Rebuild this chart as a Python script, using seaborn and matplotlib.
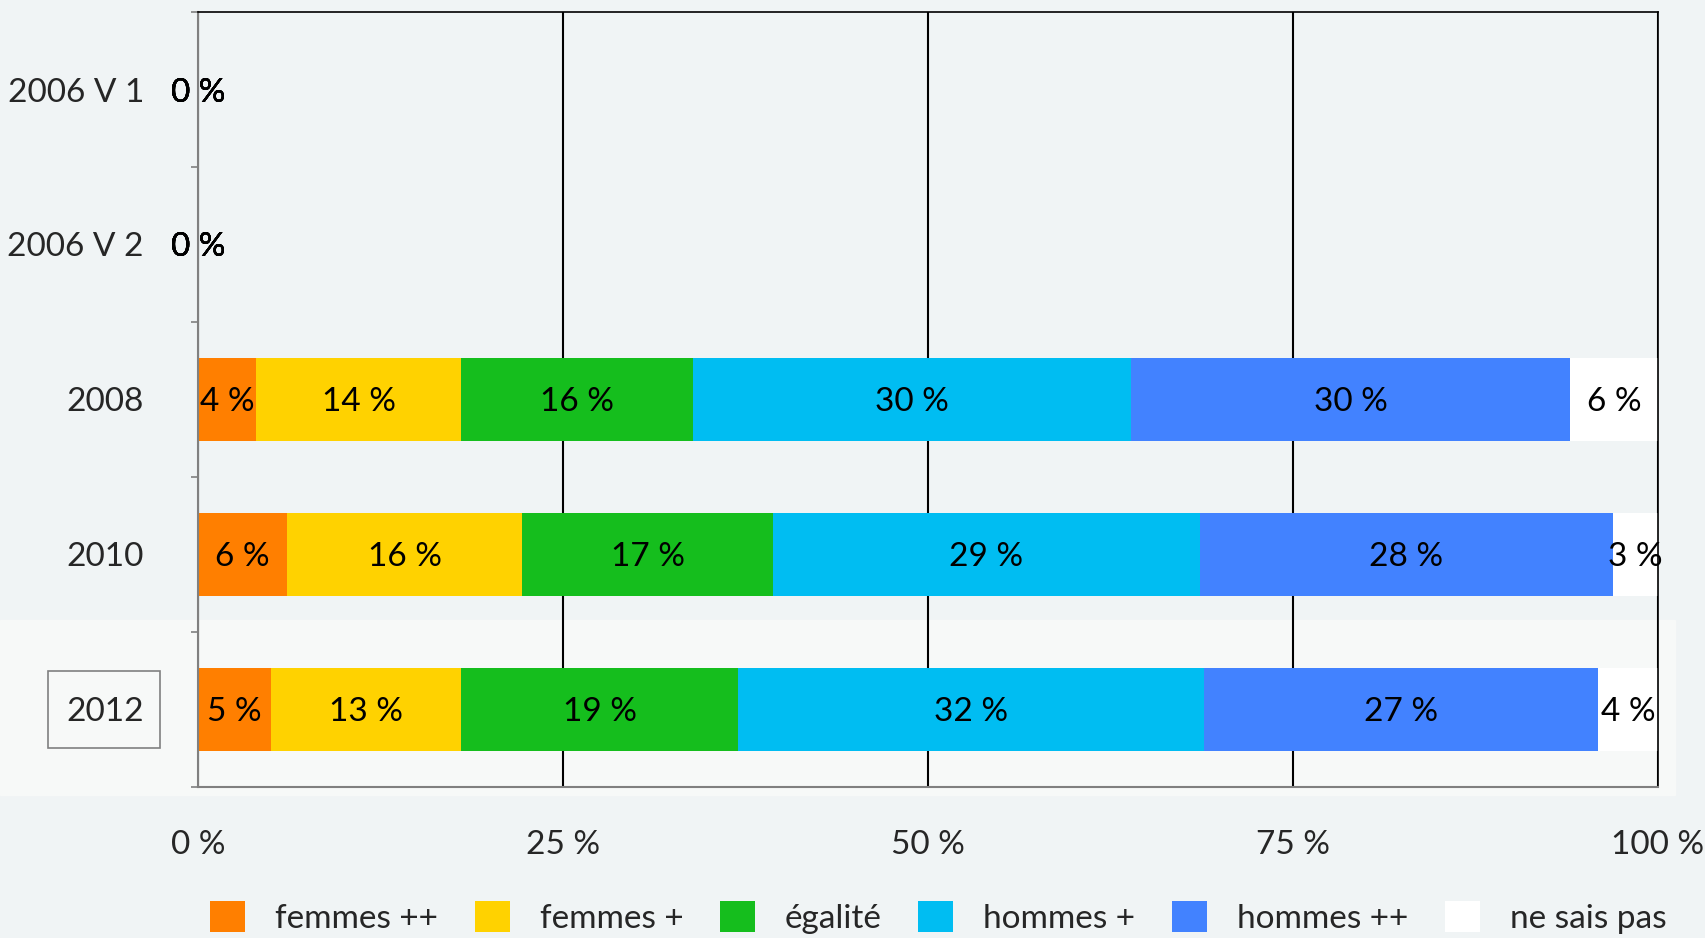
import matplotlib

matplotlib.use("Agg")
import matplotlib.pyplot as plt
import matplotlib.transforms as mtransforms
import numpy as np
import pandas as pd
import seaborn as sns
from matplotlib.patches import Patch, Rectangle
from matplotlib.ticker import FixedLocator, FuncFormatter

# data (share of answers, %)
years = ["2006 V 1", "2006 V 2", "2008", "2010", "2012"]
answers = ["femmes ++", "femmes +", "égalité", "hommes +", "hommes ++", "ne sais pas"]
femmes_pp = [0, 0, 4.0, 6.1, 5.0]
femmes_p = [0, 0, 14.0, 16.1, 13.0]
egalite = [0, 0, 15.9, 17.2, 19.0]
hommes_p = [0, 0, 30.0, 29.2, 31.9]
hommes_pp = [0, 0, 30.1, 28.3, 27.0]
ne_sais_pas = [0, 0, 6.0, 3.1, 4.1]
colors = ["#FF7F00", "#FFD200", "#15BE1D", "#00BDF2", "#4282FF", "#FFFFFF"]

series = [femmes_pp, femmes_p, egalite, hommes_p, hommes_pp, ne_sais_pas]
df = pd.DataFrame({"year": np.repeat(years, len(answers)),
                   "answer": answers * len(years),
                   "value": np.array(series).T.ravel()})
df["cum"] = df.groupby("year", sort=False)["value"].cumsum()

sns.set_theme(style="white")
plt.rcParams["font.family"] = ["Lato", "DejaVu Sans"]
plt.rcParams["font.size"] = 24

bg = "#F0F4F5"
fig = plt.figure(figsize=(17.06, 9.38), dpi=100, facecolor=bg)
fig.patches.append(Rectangle((0, 0.152), 0.982, 0.187, transform=fig.transFigure,
                             color="#F7F9F8", zorder=-5))
ax = fig.add_axes([0.1161, 0.161, 0.8558, 0.8262])
ax.patch.set_alpha(0)

# stacked bars: draw cumulative totals from the last answer backwards
for ans, col in reversed(list(zip(answers, colors))):
    sub = df[df["answer"] == ans]
    sns.barplot(data=sub, x="cum", y="year", order=years, orient="h", color=col,
                saturation=1, width=0.53, ax=ax, linewidth=0)

for _, row in df.iterrows():
    ax.text(row["cum"] - row["value"] / 2, years.index(row["year"]),
            f"{round(row['value'])} %", ha="center", va="center_baseline",
            color="black", fontsize=24, zorder=5)

ax.set_xlim(0, 100)
ax.xaxis.set_major_locator(FixedLocator([0, 25, 50, 75, 100]))
ax.xaxis.set_major_formatter(FuncFormatter(lambda v, p: f"{int(v)} %"))
ax.set_axisbelow(True)
ax.grid(axis="x", color="black", linewidth=1.5)
ax.grid(axis="y", visible=False)
ax.set_xlabel("")
ax.set_ylabel("")

ax.yaxis.set_minor_locator(FixedLocator(np.arange(-0.5, len(years), 1.0)))
ax.tick_params(axis="y", which="major", length=0, pad=39, labelsize=24)
ax.tick_params(axis="y", which="minor", length=5, width=1.2, color="#808080", left=True)
ax.tick_params(axis="x", which="major", length=0, pad=31, labelsize=24)

for side in ["top", "right"]:
    ax.spines[side].set_visible(True)
    ax.spines[side].set_color("black")
    ax.spines[side].set_linewidth(1.2)
for side in ["left", "bottom"]:
    ax.spines[side].set_visible(True)
    ax.spines[side].set_color("#808080")
    ax.spines[side].set_linewidth(1.5)

# frame around the current year label
trans = mtransforms.blended_transform_factory(ax.transAxes, ax.transData)
ax.add_patch(Rectangle((-0.1027, years.index("2012") - 0.25), 0.0767, 0.5,
                       transform=trans, fill=False, edgecolor="#808080",
                       linewidth=1.2, clip_on=False))

handles = [Patch(facecolor=c, edgecolor="none", label=a) for a, c in zip(answers, colors)]
fig.legend(handles=handles, loc="center", bbox_to_anchor=(0.55, 0.022), ncol=6,
           frameon=False, fontsize=24, handlelength=1.05, handleheight=1.05,
           handletextpad=0.9, columnspacing=1.1)

fig.savefig("out.png", dpi=100, facecolor=bg)
